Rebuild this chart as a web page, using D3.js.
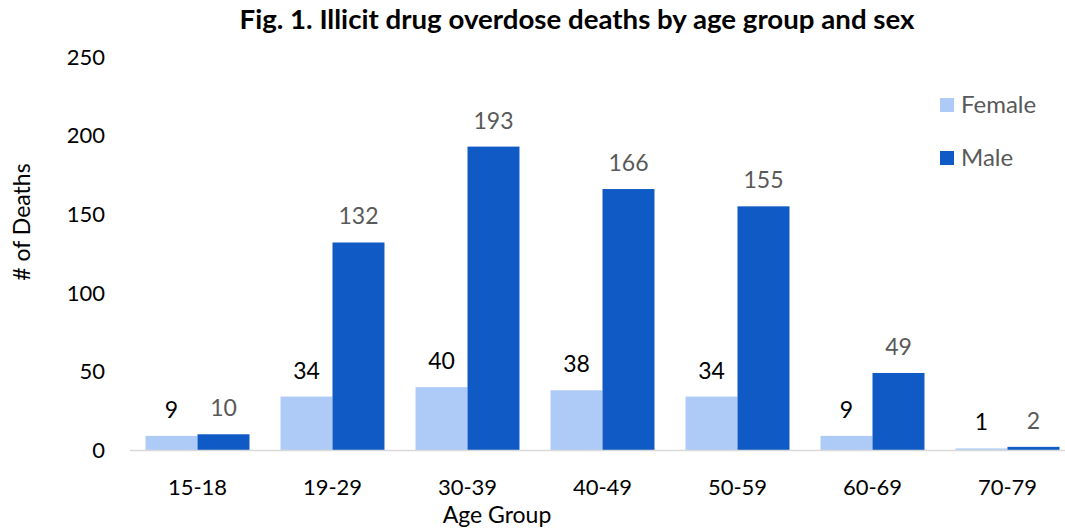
<!DOCTYPE html>
<html><head><meta charset="utf-8">
<script src="https://cdn.jsdelivr.net/npm/d3@7"></script>
<style>body{margin:0;background:#fff;} text{font-family:Lato, "Open Sans", sans-serif;}</style>
</head><body>
<svg id="c" width="1065" height="529"></svg>
<script>
const categories = ["15-18","19-29","30-39","40-49","50-59","60-69","70-79"];
const female = [9,34,40,38,34,9,1];
const male = [10,132,193,166,155,49,2];
const yTicks = [0,50,100,150,200,250];
const seriesNames = ["Female","Male"];
const colors = ["#aecbf8","#0f5ac5"];
const labelColors = ["#000000","#595959"];

const svg = d3.select("#c");
const x = d3.scaleBand().domain(categories).range([130,1075]).paddingInner(0.23).paddingOuter(0.115);
const xs = d3.scaleBand().domain(seriesNames).range([0,x.bandwidth()]);
const y = d3.scaleLinear().domain([0,250]).range([450,57]);

svg.append("text").attr("x",577).attr("y",29).attr("text-anchor","middle")
  .attr("font-size",26).attr("font-weight","bold").attr("textLength",675).attr("lengthAdjust","spacingAndGlyphs")
  .text("Fig. 1. Illicit drug overdose deaths by age group and sex");

// y ticks
svg.selectAll(".yt").data(yTicks).enter().append("text")
  .attr("x",105).attr("y",d=>y(d)).attr("dy","0.35em").attr("text-anchor","end")
  .attr("font-size",22).attr("fill","#000").text(d=>d);

const data = [female, male];
data.forEach((vals,si)=>{
  const g = svg.append("g");
  g.selectAll("rect").data(vals).enter().append("rect")
    .attr("x",(d,i)=>x(categories[i])+xs(seriesNames[si]))
    .attr("width",xs.bandwidth())
    .attr("y",d=>y(d)).attr("height",d=>y(0)-y(d))
    .attr("fill",colors[si]);
  g.selectAll("text").data(vals).enter().append("text")
    .attr("x",(d,i)=>x(categories[i])+xs(seriesNames[si])+xs.bandwidth()/2)
    .attr("y",d=>y(d)-18).attr("text-anchor","middle")
    .attr("font-size",23).attr("fill",labelColors[si]).text(d=>d);
});

svg.append("line").attr("x1",130).attr("x2",1065).attr("y1",y(0)+0.5).attr("y2",y(0)+0.5)
  .attr("stroke","#d9d9d9").attr("stroke-width",1.5);

svg.selectAll(".xt").data(categories).enter().append("text")
  .attr("x",d=>x(d)+x.bandwidth()/2).attr("y",495).attr("text-anchor","middle")
  .attr("font-size",22).attr("fill","#000").text(d=>d);

svg.append("text").attr("x",497).attr("y",523).attr("text-anchor","middle")
  .attr("font-size",23).text("Age Group");
svg.append("text").attr("transform","translate(30,222) rotate(-90)").attr("text-anchor","middle")
  .attr("font-size",23).text("# of Deaths");

// legend
seriesNames.forEach((n,i)=>{
  const ly = 105 + i*53;
  svg.append("rect").attr("x",940).attr("y",ly-7).attr("width",14).attr("height",14).attr("fill",colors[i]);
  svg.append("text").attr("x",961).attr("y",ly).attr("dy","0.35em").attr("font-size",24)
    .attr("fill","#595959").text(n);
});
</script>
</body></html>
